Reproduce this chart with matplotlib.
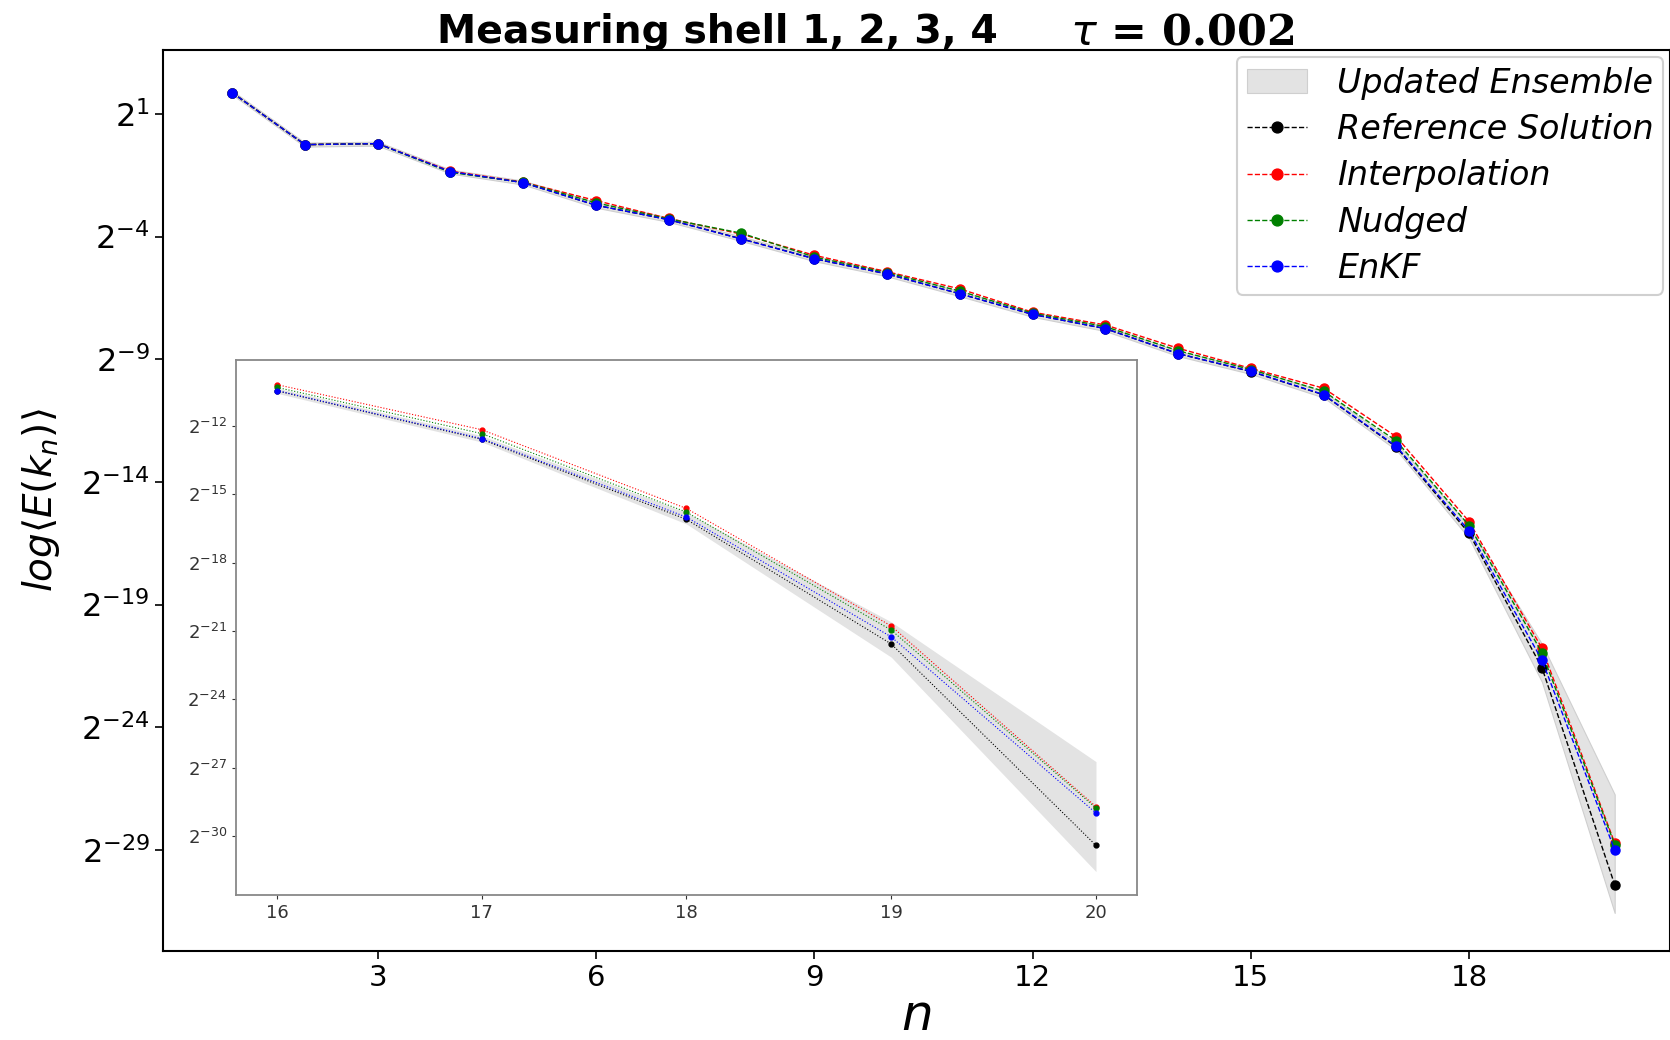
import numpy as np
import matplotlib
matplotlib.use('Agg')
from matplotlib import pyplot as plt
from matplotlib.ticker import NullLocator

# shell index
shells = np.arange(1, 21)

# log2 of <E(k_n)>
ref_log2 = [1.87, -0.25, -0.21, -1.35, -1.80, -2.72, -3.31, -4.09, -4.90, -5.52,
            -6.33, -7.17, -7.75, -8.77, -9.50, -10.45, -12.58, -16.10, -21.57, -30.42]
interp_log2 = [1.87, -0.25, -0.21, -1.33, -1.78, -2.53, -3.26, -3.90, -4.76, -5.43,
               -6.13, -7.08, -7.60, -8.55, -9.37, -10.18, -12.16, -15.62, -20.78, -28.72]
nudged_log2 = [1.87, -0.25, -0.21, -1.38, -1.79, -2.62, -3.28, -3.86, -4.83, -5.47,
               -6.22, -7.12, -7.67, -8.65, -9.42, -10.30, -12.33, -15.78, -20.96, -28.78]
enkf_log2 = [1.87, -0.25, -0.21, -1.35, -1.80, -2.72, -3.31, -4.10, -4.90, -5.52,
             -6.33, -7.17, -7.75, -8.77, -9.49, -10.44, -12.55, -16.00, -21.26, -29.00]
# updated ensemble spread (min / max)
ens_hi_log2 = [1.95, -0.17, -0.13, -1.27, -1.72, -2.60, -3.22, -4.00, -4.80, -5.42,
               -6.22, -7.08, -7.65, -8.66, -9.38, -10.33, -12.42, -15.80, -20.60, -26.74]
ens_lo_log2 = [1.79, -0.33, -0.29, -1.43, -1.88, -2.82, -3.40, -4.18, -5.00, -5.62,
               -6.43, -7.27, -7.85, -8.87, -9.60, -10.56, -12.70, -16.30, -22.15, -31.57]

series = [('Reference Solution', ref_log2, 'black'),
          ('Interpolation', interp_log2, 'red'),
          ('Nudged', nudged_log2, 'green'),
          ('EnKF', enkf_log2, 'blue')]

fig = plt.figure(figsize=(16.7, 10.4), dpi=100)
ax = fig.add_axes([0.0976, 0.0856, 0.9024, 0.8664])

ax.fill_between(shells, np.power(2.0, ens_lo_log2), np.power(2.0, ens_hi_log2),
                color='#e3e3e3', edgecolor='#cfcfcf', linewidth=0.8,
                label='Updated Ensemble')
for name, vals, col in series:
    ax.plot(shells, np.power(2.0, vals), '--o', color=col, lw=1.0, ms=6.5,
            label=name)

ax.set_yscale('log', base=2)
ax.set_xlim(0.05, 20.76)
ax.set_ylim(2 ** -33.12, 2 ** 3.61)
ax.set_xticks([3, 6, 9, 12, 15, 18])
ax.set_yticks([2.0 ** k for k in range(1, -30, -5)])
ax.yaxis.set_minor_locator(NullLocator())
ax.tick_params(axis='x', which='major', labelsize=21, length=6, width=1.2)
ax.tick_params(axis='y', which='major', labelsize=23, length=6, width=1.2)
for s in ax.spines.values():
    s.set_linewidth(1.5)

ax.set_xlabel('$n$', fontsize=36, labelpad=0)
ax.set_ylabel(r'$log\langle E(k_n)\rangle$', fontsize=28, labelpad=14)

leg = ax.legend(loc='upper right', prop={'style': 'italic', 'size': 24},
                handlelength=1.8, borderaxespad=0.2, borderpad=0.3,
                labelspacing=0.4, handletextpad=0.9, markerscale=1.2,
                framealpha=1.0, bbox_to_anchor=(1.0, 1.0))
leg.get_frame().set_edgecolor('#d0d0d0')
leg.get_frame().set_linewidth(1.5)

# title in two pieces
fig.text(0.2615, 0.969, 'Measuring shell 1, 2, 3, 4', fontsize=28.4,
         fontweight='bold', ha='left', va='center')
fig.text(0.641, 0.969, r'$\tau$ = 0.002', fontsize=31, family='DejaVu Serif',
         fontweight='bold', ha='left', va='center')

# zoomed inset for the last shells
ins = fig.add_axes([0.1413, 0.1394, 0.5395, 0.5144])
ins.fill_between(shells[15:], np.power(2.0, ens_lo_log2[15:]),
                 np.power(2.0, ens_hi_log2[15:]), color='#e3e3e3', linewidth=0)
for name, vals, col in series:
    ins.plot(shells[15:], np.power(2.0, vals[15:]), ':o', color=col, lw=0.8, ms=3.5)
ins.set_yscale('log', base=2)
ins.set_xlim(15.8, 20.2)
ins.set_ylim(2 ** -32.6, 2 ** -9.1)
ins.set_xticks([16, 17, 18, 19, 20])
ins.set_yticks([2.0 ** k for k in range(-12, -31, -3)])
ins.yaxis.set_minor_locator(NullLocator())
ins.tick_params(axis='both', labelsize=13, length=3, width=0.8, colors='#333333')
for s in ins.spines.values():
    s.set_color('#888888')
    s.set_linewidth(1.3)

plt.savefig('out.png', dpi=100)
